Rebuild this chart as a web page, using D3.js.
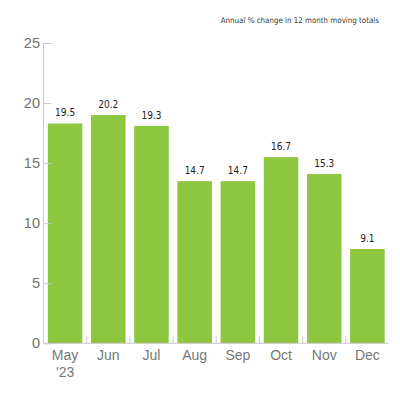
<!DOCTYPE html>
<html>
<head>
<meta charset="utf-8">
<script src="https://cdn.jsdelivr.net/npm/d3@7"></script>
<style>
  body { margin: 0; background: #fff; }
  svg { display: block; }
</style>
</head>
<body>
<div id="chart"></div>
<script>
var months = ["May", "Jun", "Jul", "Aug", "Sep", "Oct", "Nov", "Dec"];
var subLabels = ["'23", "", "", "", "", "", "", ""];
// bar heights as drawn in the picture
var barValues = [18.3, 19.0, 18.1, 13.5, 13.5, 15.5, 14.1, 7.85];
// printed labels above the bars
var valueLabels = ["19.5", "20.2", "19.3", "14.7", "14.7", "16.7", "15.3", "9.1"];
var yTicks = [0, 5, 10, 15, 20, 25];
var title = "Annual % change in 12 month moving totals";

var w = 400, h = 400,
    padLeft = 43.5, padRight = 389,
    padTop = 43, padBottom = 343.3;

var svg = d3.select("#chart").append("svg")
    .attr("width", w)
    .attr("height", h);

var x = d3.scaleBand()
    .domain(months)
    .range([padLeft, padRight])
    .paddingInner(0.2)
    .paddingOuter(0.1);

var y = d3.scaleLinear()
    .domain([0, 25])
    .range([padBottom, padTop]);

svg.append("text")
    .attr("x", 379)
    .attr("y", 22.5)
    .attr("text-anchor", "end")
    .style("font-family", "'DejaVu Sans Condensed', sans-serif")
    .style("font-size", "7.9px")
    .style("fill", "#3a3a3a")
    .text(title);

// bars
svg.selectAll("rect.bar")
    .data(barValues)
  .enter().append("rect")
    .attr("class", "bar")
    .attr("x", function(d, i) { return x(months[i]); })
    .attr("width", x.bandwidth())
    .attr("y", function(d) { return y(d); })
    .attr("height", function(d) { return y(0) - y(d); })
    .attr("fill", "#8dc63f");

svg.selectAll("text.val")
    .data(barValues)
  .enter().append("text")
    .attr("class", "val")
    .attr("x", function(d, i) { return x(months[i]) + x.bandwidth() / 2; })
    .attr("y", function(d) { return y(d) - 7; })
    .attr("text-anchor", "middle")
    .style("font-family", "'DejaVu Sans Condensed', sans-serif")
    .style("font-size", "10px")
    .style("fill", "#222")
    .text(function(d, i) { return valueLabels[i]; });

// y axis
var yAxis = svg.append("g")
    .attr("transform", "translate(" + padLeft + ",0)")
    .call(d3.axisLeft(y).tickValues(yTicks).tickSize(-8).tickPadding(4));
yAxis.select(".domain").attr("stroke", "#c8c8c8").attr("d", "M0," + padTop + "V" + padBottom);
yAxis.selectAll(".tick line").attr("stroke", "#c8c8c8");
yAxis.selectAll(".tick text")
    .attr("x", -3.5)
    .style("font-family", "'Liberation Sans', Arial, sans-serif")
    .style("font-size", "14.5px")
    .style("fill", "#707070");

// x axis: tick marks sit between the bars
svg.append("line")
    .attr("x1", padLeft).attr("x2", padRight)
    .attr("y1", padBottom).attr("y2", padBottom)
    .attr("stroke", "#c8c8c8");

svg.selectAll("line.sep")
    .data(months.slice(1))
  .enter().append("line")
    .attr("class", "sep")
    .attr("x1", function(d) { return x(d) - x.step() * x.paddingInner() / 2; })
    .attr("x2", function(d) { return x(d) - x.step() * x.paddingInner() / 2; })
    .attr("y1", padBottom)
    .attr("y2", padBottom - 7)
    .attr("stroke", "#c8c8c8");

var xl = svg.selectAll("text.month")
    .data(months)
  .enter().append("text")
    .attr("class", "month")
    .attr("x", function(d) { return x(d) + x.bandwidth() / 2; })
    .attr("y", 360)
    .attr("text-anchor", "middle")
    .style("font-family", "'Liberation Sans', Arial, sans-serif")
    .style("font-size", "14px")
    .style("fill", "#777");
xl.append("tspan")
    .attr("x", function(d) { return x(d) + x.bandwidth() / 2; })
    .text(function(d) { return d; });
xl.append("tspan")
    .attr("x", function(d) { return x(d) + x.bandwidth() / 2; })
    .attr("dy", 17)
    .text(function(d, i) { return subLabels[i]; });
</script>
</body>
</html>
